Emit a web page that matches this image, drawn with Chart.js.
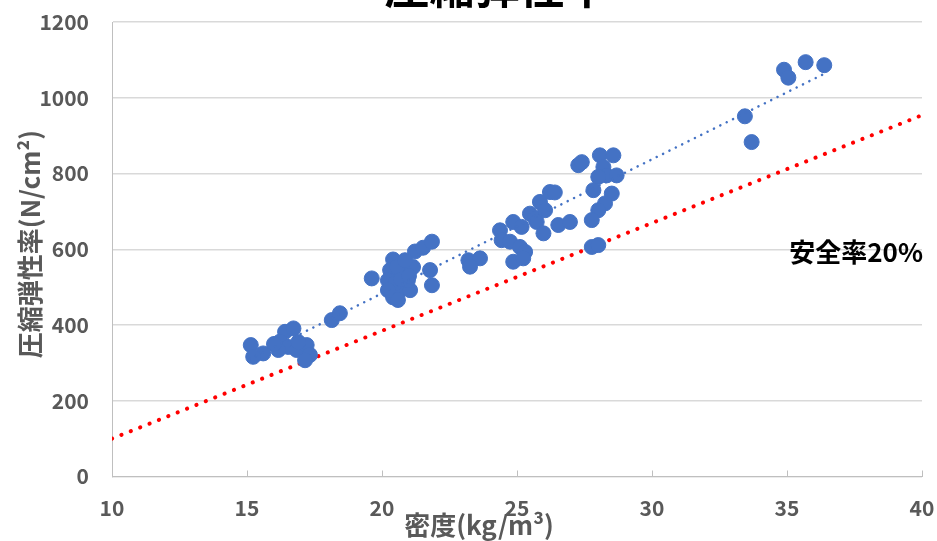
<!DOCTYPE html>
<html>
<head>
<meta charset="utf-8">
<script src="https://cdn.jsdelivr.net/npm/chart.js@4/dist/chart.umd.min.js"></script>
<style>
  html, body { margin: 0; padding: 0; background: #fff; }
  #wrap { width: 937px; height: 541px; }
</style>
</head>
<body>
<div id="wrap"><canvas id="chart" width="937" height="541"></canvas></div>
<script>
// 測定値 (密度, 圧縮弾性率)
const density = [
  15.14, 15.60, 15.23, 16.41, 16.72, 16.22, 16.53, 16.84, 17.21, 17.33, 17.15, 16.16, 16.00, 16.90,
  18.14, 18.44,
  19.62, 20.41, 21.22, 21.52, 21.85, 21.78, 21.85, 20.30, 20.22, 20.41, 20.67, 21.04, 20.78, 21.15,
  20.96, 20.56, 20.48, 20.85, 20.22, 20.59, 20.70, 21.00,
  23.20, 23.63, 23.26, 24.37, 24.43, 24.74, 24.86, 25.17, 25.11, 25.30, 24.86, 25.23, 25.48, 25.67,
  25.73, 25.85, 26.04, 26.22, 25.98, 26.53, 26.96, 26.40,
  27.27, 28.07, 28.57, 28.20, 28.32, 28.69, 28.01, 27.83, 28.51, 28.26, 28.01, 27.77, 27.77, 28.01, 27.40,
  33.44, 33.69, 34.89, 35.05, 35.69, 36.38
];
const modulus = [
  347, 325, 316, 382, 391, 356, 342, 334, 347, 321, 307, 334, 350, 355,
  413, 431,
  523, 573, 594, 604, 620, 545, 505, 545, 518, 473, 492, 492, 537, 553,
  518, 553, 510, 571, 492, 466, 520, 530,
  571, 576, 554, 650, 624, 620, 672, 659, 606, 593, 567, 576, 694, 681,
  672, 725, 703, 751, 642, 664, 672, 750,
  822, 848, 848, 817, 795, 795, 791, 756, 747, 721, 703, 677, 606, 611, 830,
  951, 883, 1074, 1053, 1094, 1086
];

// 近似線 (端点)
const trendX = [15.1, 36.4];
const trendY = [310, 1064];

// 安全率20%ライン
const safeX = [10, 40];
const safeY = [100, 954];

const xTicks = [10, 15, 20, 25, 30, 35, 40];
const yTicks = [0, 200, 400, 600, 800, 1000, 1200];

const chartTitle = '圧縮弾性率';
const xTitle = '密度(kg/m³)';
const yTitle = '圧縮弾性率(N/cm²)';
const safeLabel = '安全率20%';

const toPoints = (xs, ys) => xs.map((x, i) => ({ x: x, y: ys[i] }));

const gray = '#595959';
const fontFamily = '"Noto Sans CJK JP", "Noto Sans", sans-serif';

const textPlugin = {
  id: 'texts',
  afterDraw(chart) {
    const ctx = chart.ctx;
    const xs = chart.scales.x;
    const ys = chart.scales.y;
    ctx.save();
    // x軸の内向き目盛り
    ctx.strokeStyle = '#bfbfbf';
    ctx.lineWidth = 1;
    xTicks.forEach(v => {
      const px = Math.round(xs.getPixelForValue(v)) + 0.5;
      ctx.beginPath();
      ctx.moveTo(px, ys.bottom);
      ctx.lineTo(px, ys.bottom - 6);
      ctx.stroke();
    });
    // タイトル (上端で切れている)
    ctx.fillStyle = '#000';
    ctx.font = 'bold 45px ' + fontFamily;
    ctx.textAlign = 'center';
    ctx.textBaseline = 'alphabetic';
    ctx.fillText(chartTitle, 497, 4);
    // 軸タイトル
    ctx.fillStyle = gray;
    ctx.font = 'bold 26px ' + fontFamily;
    ctx.fillText(xTitle, 479, 535);
    ctx.save();
    ctx.translate(40, 244);
    ctx.rotate(-Math.PI / 2);
    ctx.fillText(yTitle, 0, 0);
    ctx.restore();
    // 安全率ラベル
    ctx.fillStyle = '#000';
    ctx.font = 'bold 26px ' + fontFamily;
    ctx.textAlign = 'right';
    ctx.fillText(safeLabel, 923, 262);
    ctx.restore();
  }
};

new Chart(document.getElementById('chart').getContext('2d'), {
  type: 'scatter',
  data: {
    datasets: [
      {
        label: 'trend',
        type: 'line',
        data: toPoints(trendX, trendY),
        borderColor: '#4472C4',
        borderWidth: 2.5,
        borderDash: [0.1, 7],
        borderCapStyle: 'round',
        pointRadius: 0,
        fill: false
      },
      {
        label: 'data',
        data: toPoints(density, modulus),
        backgroundColor: '#4472C4',
        borderColor: '#4472C4',
        pointRadius: 7.5,
        pointHoverRadius: 7.5
      },
      {
        label: 'safe',
        type: 'line',
        data: toPoints(safeX, safeY),
        borderColor: '#ff0000',
        borderWidth: 4,
        borderDash: [0.1, 10],
        borderCapStyle: 'round',
        pointRadius: 0,
        fill: false
      }
    ]
  },
  options: {
    responsive: false,
    animation: false,
    events: [],
    layout: { padding: { left: 0, right: 15, top: 22, bottom: 0 } },
    plugins: {
      legend: { display: false },
      title: { display: false },
      tooltip: { enabled: false }
    },
    scales: {
      x: {
        type: 'linear',
        min: 10,
        max: 40,
        afterBuildTicks: s => { s.ticks = xTicks.map(v => ({ value: v })); },
        afterFit: s => { s.height = 64.5; s.paddingLeft = 0; s.paddingRight = 0; },
        grid: { display: true, drawOnChartArea: false, drawTicks: false, color: '#bfbfbf' },
        border: { display: true, color: '#bfbfbf', width: 1 },
        ticks: {
          padding: 19,
          color: gray,
          callback: v => String(v),
          font: { family: fontFamily, size: 21, weight: 'bold' }
        }
      },
      y: {
        type: 'linear',
        min: 0,
        max: 1200,
        afterBuildTicks: s => { s.ticks = yTicks.map(v => ({ value: v })); },
        afterFit: s => { s.width = 112; s.paddingTop = 0; s.paddingBottom = 0; },
        grid: { color: '#d9d9d9', drawTicks: false, lineWidth: 1.5 },
        border: { display: true, color: '#bfbfbf', width: 1 },
        ticks: {
          padding: 23,
          color: gray,
          callback: v => String(v),
          font: { family: fontFamily, size: 21, weight: 'bold' }
        }
      }
    }
  },
  plugins: [textPlugin]
});
</script>
</body>
</html>
